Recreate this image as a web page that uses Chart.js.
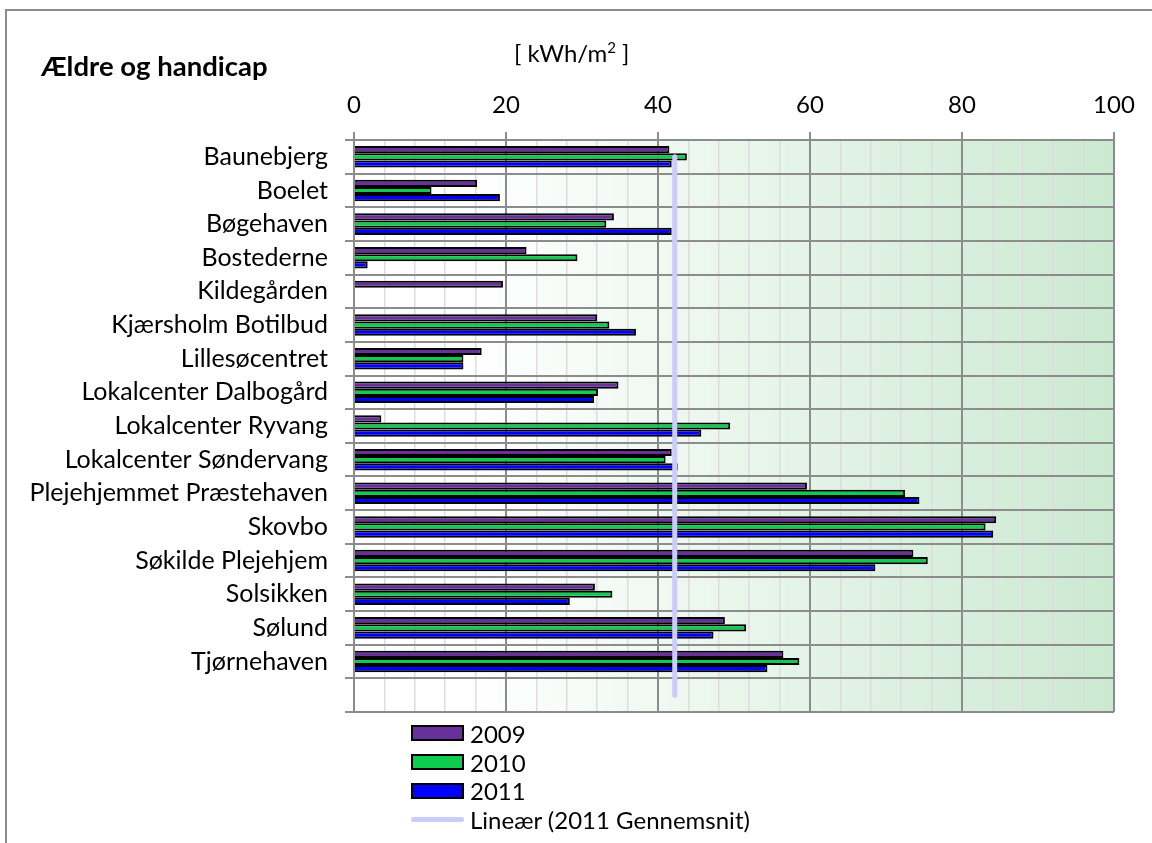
<!DOCTYPE html>
<html>
<head>
<meta charset="utf-8">
<script src="https://cdn.jsdelivr.net/npm/chart.js@4"></script>
<style>
  html, body { margin: 0; padding: 0; background: #fff; overflow: hidden; }
  body { width: 1152px; height: 843px; position: relative; font-family: Lato, sans-serif; }
  #frame { position: absolute; left: 5px; top: 9px; width: 1200px; height: 900px; border: 2px solid #8c8c8c; }
  #wrap { position: absolute; left: 0; top: 0; width: 1152px; height: 843px; }
  #title { position: absolute; left: 41px; top: 52px; font-size: 27.5px; font-weight: bold; line-height: 1; }
  #unit { position: absolute; left: 514px; top: 41px; font-size: 24px; line-height: 1; }
  #unit sup { font-size: 15px; vertical-align: 9px; line-height: 0; }
  #legend { position: absolute; left: 411px; top: 719px; font-size: 24px; }
  #legend .item { height: 28.7px; display: flex; align-items: center; }
  #legend .box { width: 49px; height: 12px; border: 2px solid #000; margin-right: 6px; }
  #legend .line { width: 53px; height: 5px; border-radius: 3px; margin-right: 6px; }
</style>
</head>
<body>
<div id="frame"></div>
<div id="wrap"><canvas id="chart" width="1152" height="843"></canvas></div>
<div id="title">Ældre og handicap</div>
<div id="unit">[ kWh/m<sup>2</sup> ]</div>
<div id="legend"></div>
<script>
const categories = ['Baunebjerg', 'Boelet', 'Bøgehaven', 'Bostederne', 'Kildegården', 'Kjærsholm Botilbud',
  'Lillesøcentret', 'Lokalcenter Dalbogård', 'Lokalcenter Ryvang', 'Lokalcenter Søndervang',
  'Plejehjemmet Præstehaven', 'Skovbo', 'Søkilde Plejehjem', 'Solsikken', 'Sølund', 'Tjørnehaven', '']

const v2009 = [41.5, 16.2, 34.2, 22.7, 19.6, 32.0, 16.8, 34.8, 3.6, 41.8, 59.6, 84.5, 73.6, 31.7, 48.8, 56.5, null]
const v2010 = [43.8, 10.2, 33.2, 29.4, null, 33.6, 14.4, 32.1, 49.5, 41.0, 72.5, 83.1, 75.5, 34.0, 51.6, 58.6, null]
const v2011 = [41.8, 19.2, 41.8, 1.8, null, 37.1, 14.4, 31.6, 45.7, 42.6, 74.4, 84.1, 68.6, 28.4, 47.3, 54.4, null]
const avg2011 = [42.2, 42.2, 42.2, 42.2, 42.2, 42.2, 42.2, 42.2, 42.2, 42.2, 42.2, 42.2, 42.2, 42.2, 42.2, 42.2, 42.2]

const xTicks = [0, 20, 40, 60, 80, 100]

Chart.defaults.font.family = 'Lato, sans-serif'
Chart.defaults.color = '#000'

// green gradient behind the plot area
const plotBg = {
  id: 'plotBg',
  beforeDraw(chart) {
    const { ctx, chartArea: a } = chart
    const g = ctx.createLinearGradient(a.left, 0, a.right, 0)
    g.addColorStop(0, '#ffffff')
    g.addColorStop(0.15, '#ffffff')
    g.addColorStop(1, '#cbe9d1')
    ctx.save()
    ctx.fillStyle = g
    ctx.fillRect(a.left, a.top, a.right - a.left, a.bottom - a.top)
    ctx.restore()
  }
}

const bar = (label, data, color) => ({
  label, data,
  backgroundColor: color,
  borderColor: '#000',
  borderWidth: 2,
  categoryPercentage: 0.64,
  barPercentage: 1,
  order: 1
})

const chart = new Chart(document.getElementById('chart'), {
  type: 'bar',
  data: {
    labels: categories,
    datasets: [
      bar('2009', v2009, '#67309a'),
      bar('2010', v2010, '#0fcb4f'),
      bar('2011', v2011, '#0000ff'),
      {
        type: 'line',
        label: 'Lineær (2011 Gennemsnit)',
        data: avg2011,
        indexAxis: 'y',
        borderColor: '#ccccfa',
        borderWidth: 5,
        borderCapStyle: 'round',
        pointRadius: 0,
        fill: false,
        order: 0
      }
    ]
  },
  options: {
    indexAxis: 'y',
    responsive: false,
    animation: false,
    layout: { padding: { top: 0, left: 0, right: 38, bottom: 131 } },
    plugins: { legend: { display: false }, tooltip: { enabled: false } },
    scales: {
      x: {
        position: 'top',
        min: 0,
        max: 100,
        afterFit: (s) => { s.height = 140 },
        afterBuildTicks: (s) => { s.ticks = Array.from({ length: 26 }, (_, i) => ({ value: i * 4 })) },
        ticks: {
          autoSkip: false,
          maxRotation: 0,
          padding: 12,
          font: { size: 24 },
          callback: (v) => xTicks.includes(v) ? String(v) : ''
        },
        grid: {
          color: (c) => c.tick && c.tick.value % 20 === 0 ? '#8c8c8c' : '#dddddd',
          lineWidth: (c) => c.tick && c.tick.value % 20 === 0 ? 2 : 1.5,
          tickColor: (c) => c.tick && c.tick.value % 20 === 0 ? '#8c8c8c' : 'rgba(0,0,0,0)',
          tickLength: 8
        },
        border: { color: '#8c8c8c', width: 2 }
      },
      y: {
        afterFit: (s) => { s.width = 354 },
        ticks: { padding: 17, font: { size: 25 }, autoSkip: false },
        grid: { color: '#8c8c8c', lineWidth: 2, tickLength: 9, offset: true },
        border: { color: '#8c8c8c', width: 2 }
      }
    }
  },
  plugins: [plotBg]
})

// legend as a column under the plot, built from the datasets
const legend = document.getElementById('legend')
chart.data.datasets.forEach(ds => {
  const item = document.createElement('div')
  item.className = 'item'
  const sw = document.createElement('span')
  if (ds.type === 'line') {
    sw.className = 'line'
    sw.style.background = ds.borderColor
  } else {
    sw.className = 'box'
    sw.style.background = ds.backgroundColor
  }
  item.appendChild(sw)
  item.appendChild(document.createTextNode(ds.label))
  legend.appendChild(item)
})
</script>
</body>
</html>
